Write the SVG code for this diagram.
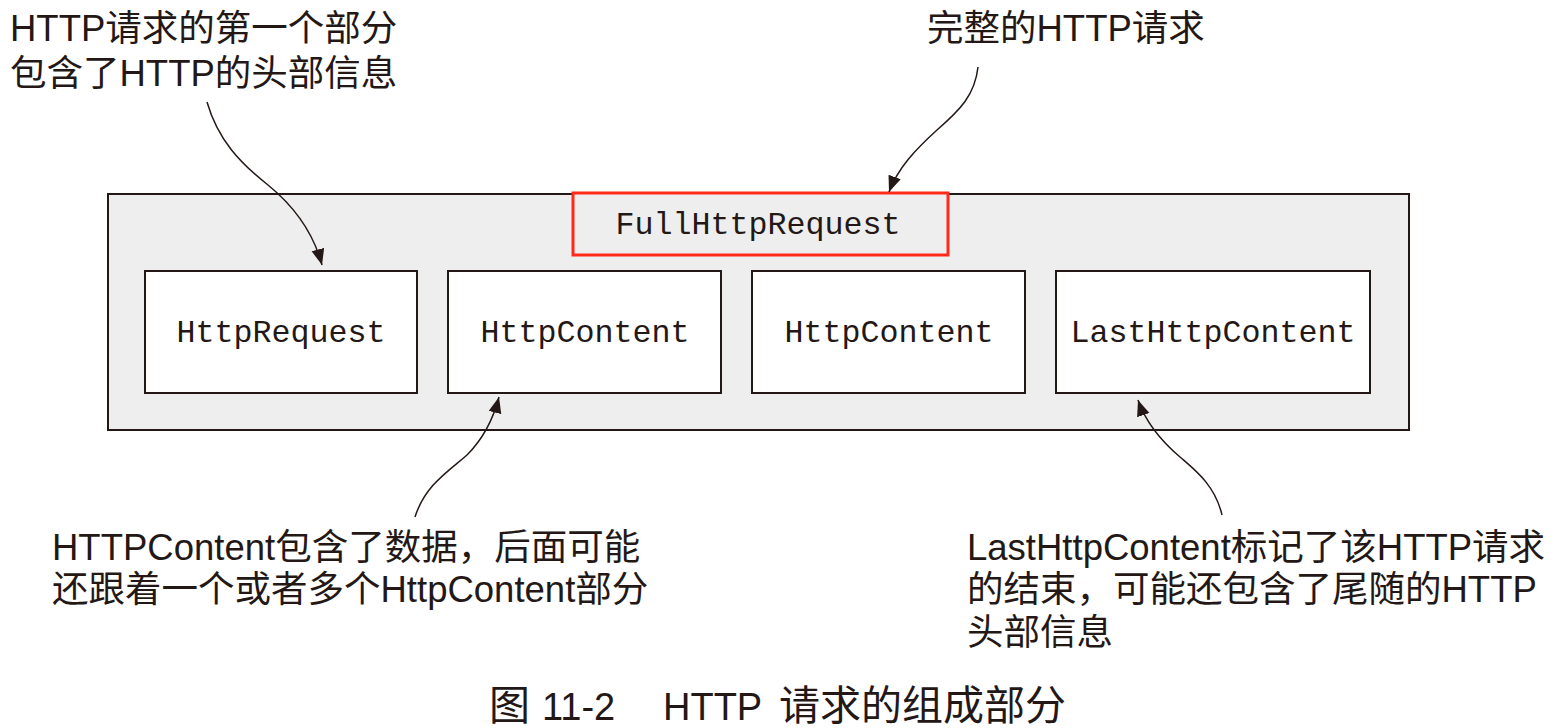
<svg xmlns="http://www.w3.org/2000/svg" width="1563" height="728" viewBox="0 0 1563 728">
<style>
.box{fill:#ffffff;stroke:#231815;stroke-width:2}
.mono{font-family:"Liberation Mono","DejaVu Sans Mono",monospace;font-size:31.7px;fill:#231815;text-anchor:middle}
.ann{font-family:"Liberation Sans","Noto Sans CJK SC",sans-serif;font-size:36.5px;fill:#231815}
.cap{font-family:"Liberation Sans","Noto Sans CJK SC",sans-serif;font-size:38px;fill:#231815}
.cjk{font-size:41px}
.conn{fill:none;stroke:#231815;stroke-width:1.5}
</style>
<defs>
<marker id="arr" markerUnits="userSpaceOnUse" markerWidth="18" markerHeight="14" refX="16" refY="6.5" orient="auto">
<path d="M0,0 L16,6.5 L0,13 Z" fill="#231815"/>
</marker>
</defs>
<rect width="1563" height="728" fill="#ffffff"/>
<g id="container">
<rect x="108" y="194" width="1301" height="236" fill="#eeeeee" stroke="#231815" stroke-width="2"/>
</g>
<g id="fullhttprequest">
<rect x="573" y="193" width="375" height="62" fill="#eeeeee" stroke="#ff2a1a" stroke-width="3"/>
<text class="mono" x="758" y="234">FullHttpRequest</text>
</g>
<g id="httprequest">
<rect class="box" x="145" y="271" width="272" height="122"/>
<text class="mono" x="281" y="342">HttpRequest</text>
</g>
<g id="httpcontent1">
<rect class="box" x="448" y="271" width="273" height="122"/>
<text class="mono" x="585" y="342">HttpContent</text>
</g>
<g id="httpcontent2">
<rect class="box" x="752" y="271" width="273" height="122"/>
<text class="mono" x="889" y="342">HttpContent</text>
</g>
<g id="lasthttpcontent">
<rect class="box" x="1056" y="271" width="314" height="122"/>
<text class="mono" x="1213" y="342">LastHttpContent</text>
</g>
<g id="connectors">
<path class="conn" marker-end="url(#arr)" d="M207,102 C218,140 240,163 268,185 C295,207 314,235 322,265"/>
<path class="conn" marker-end="url(#arr)" d="M978,67 C975,95 960,110 937,130 C915,150 898,168 889,192"/>
<path class="conn" marker-end="url(#arr)" d="M415,517 C425,485 450,470 467,455 C482,440 493,420 499,397"/>
<path class="conn" marker-end="url(#arr)" d="M1222,515 C1215,485 1195,470 1180,457 C1160,440 1145,420 1138,400"/>
</g>
<g id="label-top-left">
<text class="ann" x="10" y="41">HTTP请求的第一个部分</text>
<text class="ann" x="10" y="86">包含了HTTP的头部信息</text>
</g>
<g id="label-top-right">
<text class="ann" x="927" y="41">完整的HTTP请求</text>
</g>
<g id="label-bottom-left">
<text class="ann" x="52" y="560">HTTPContent包含了数据，后面可能</text>
<text class="ann" x="52" y="602">还跟着一个或者多个HttpContent部分</text>
</g>
<g id="label-bottom-right">
<text class="ann" x="967" y="560">LastHttpContent标记了该HTTP请求</text>
<text class="ann" x="967" y="602">的结束，可能还包含了尾随的HTTP</text>
<text class="ann" x="967" y="645">头部信息</text>
</g>
<g id="caption">
<text class="cap" y="720"><tspan class="cjk" x="489">图</tspan><tspan x="542">11-2</tspan><tspan x="663">HTTP</tspan><tspan class="cjk" x="779">请求的组成部分</tspan></text>
</g>
</svg>
